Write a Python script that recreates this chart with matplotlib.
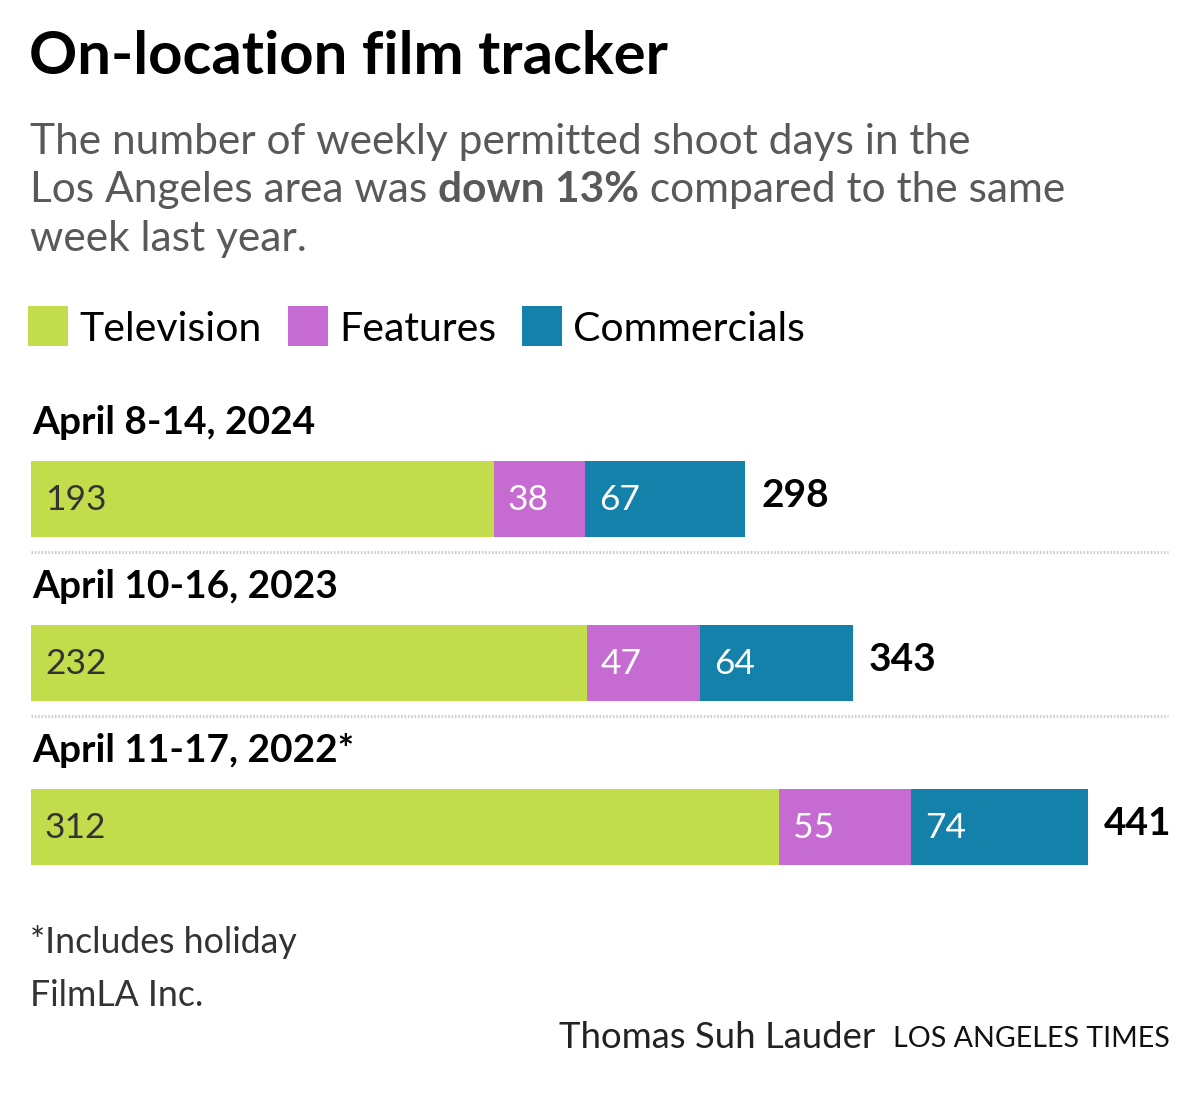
import matplotlib
matplotlib.use("Agg")
import matplotlib.pyplot as plt

plt.rcParams['font.family'] = ['Lato', 'DejaVu Sans']

W, H = 1200, 1094
weeks = ["April 8-14, 2024", "April 10-16, 2023", "April 11-17, 2022*"]
television = [193, 232, 312]
features = [38, 47, 55]
commercials = [67, 64, 74]
series_names = ["Television", "Features", "Commercials"]
colors = ["#c3dc4b", "#c56bd1", "#1481aa"]
label_colors = ["#333333", "#ffffff", "#ffffff"]

fig = plt.figure(figsize=(W / 100, H / 100), dpi=100)

def fx(x):
    return x / W

def fy(y):
    return 1 - y / H

# Title & subtitle
fig.text(fx(29), fy(57), "On-location film tracker", fontsize=43, fontweight='bold',
         color='black', va='center', ha='left')
sub_col = '#595959'
SUB = 30.6
fig.text(fx(30), fy(142), "The number of weekly permitted shoot days in the", fontsize=SUB,
         color=sub_col, va='center', ha='left')
t1 = fig.text(fx(30), fy(190), "Los Angeles area was ", fontsize=SUB, color=sub_col,
              va='center', ha='left')
fig.canvas.draw()
r = fig.canvas.get_renderer()
bb = t1.get_window_extent(r)
t2 = fig.text(bb.x1 / W, fy(190), "down 13%", fontsize=SUB, color=sub_col,
              fontweight='bold', va='center', ha='left')
bb2 = t2.get_window_extent(r)
fig.text(bb2.x1 / W, fy(190), " compared to the same", fontsize=SUB, color=sub_col,
         va='center', ha='left')
fig.text(fx(30), fy(239), "week last year.", fontsize=SUB, color=sub_col, va='center', ha='left')

# Legend
leg_x = [28, 288, 522]
for name, c, x in zip(series_names, colors, leg_x):
    fig.patches.append(plt.Rectangle((fx(x), fy(346)), 40 / W, 40 / H, transform=fig.transFigure,
                                     facecolor=c, edgecolor='none'))
    fig.text(fx(x + 51), fy(329), name, fontsize=29.5, color='black', va='center', ha='left')

# Bars
ax = fig.add_axes([fx(31), fy(908.5), (1170 - 31) / W, 492 / H])
px_per_unit = 1057 / 441
ax.set_xlim(0, (1170 - 31) / px_per_unit)
ax.set_ylim(2.5, -0.5)
ax.axis('off')

n = len(weeks)
ypos = list(range(n))
bar_h = 76 / 164
left = [0] * n
for vals, c, lc in zip([television, features, commercials], colors, label_colors):
    ax.barh(ypos, vals, left=left, height=bar_h, color=c, edgecolor='none')
    for i in range(n):
        ax.text(left[i] + 14 / px_per_unit, ypos[i] + 0.01, str(vals[i]), fontsize=25.5,
                color=lc, va='center', ha='left')
    left = [l + v for l, v in zip(left, vals)]

for i in range(n):
    ax.text(left[i] + 16 / px_per_unit, ypos[i] - 0.02, str(left[i]), fontsize=28,
            fontweight='bold', color='black', va='center', ha='left')
    ax.text(1.5 / px_per_unit, ypos[i] - 0.465, weeks[i], fontsize=28, fontweight='bold',
            color='black', va='center', ha='left')

for i in range(n - 1):
    yl = ypos[i] + 0.327
    ax.plot([0, (1168 - 31) / px_per_unit], [yl, yl], color='#cccccc', lw=2.2,
            linestyle=(0, (0.5, 0.6)), solid_capstyle='butt', dash_capstyle='butt', clip_on=False)

# Footer
fig.text(fx(30), fy(942), "*Includes holiday", fontsize=25.7, color='#333333', va='center', ha='left')
fig.text(fx(30), fy(996), "FilmLA Inc.", fontsize=25.7, color='#333333', va='center', ha='left')
fig.text(fx(875), fy(1037), "Thomas Suh Lauder", fontsize=26.3, color='#222222', va='center',
         ha='right')
fig.text(fx(1170), fy(1039), "LOS ANGELES TIMES", fontsize=20.6, color='#111111', va='center',
         ha='right')

fig.savefig("out.png", dpi=100, facecolor='white')
